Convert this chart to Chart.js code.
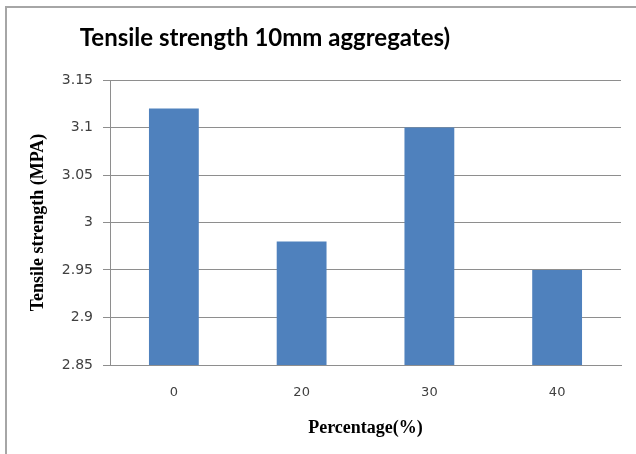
<!DOCTYPE html>
<html lang="en">
<head>
    <meta charset="UTF-8">
    <title>Tensile strength 10mm aggregates)</title>
    <script src="https://cdn.jsdelivr.net/npm/chart.js"></script>
    <style>
        body { margin: 0; background: #fff; }
        .wrap { position: relative; width: 636px; height: 454px; overflow: hidden; }
        .frame {
            position: absolute; left: 5px; top: 6px; width: 700px; height: 500px;
            border-left: 2px solid #a6a6a6; border-top: 2px solid #a6a6a6;
            pointer-events: none;
        }
        .title {
            position: absolute; left: 0; top: 22px; width: 530px;
            text-align: center; font: bold 24px/30px Lato, sans-serif; color: #000;
            white-space: nowrap;
        }
        canvas { position: absolute; left: 0; top: 0; }
    </style>
</head>
<body>
    <div class="wrap">
        <canvas id="chart" width="636" height="454"></canvas>
        <div class="title">Tensile strength 10mm aggregates)</div>
        <div class="frame"></div>
    </div>

    <script>
        const categories = ['0', '20', '30', '40'];
        const strength = [3.12, 2.98, 3.10, 2.95];
        const yTicks = [2.85, 2.9, 2.95, 3, 3.05, 3.1, 3.15];

        const gridGray = '#8e8e8e';
        const labelColor = '#404040';

        new Chart(document.getElementById('chart'), {
            type: 'bar',
            data: {
                labels: categories,
                datasets: [{
                    label: 'Tensile strength',
                    data: strength,
                    backgroundColor: '#4f81bd',
                    borderWidth: 0,
                    barPercentage: 0.39,
                    categoryPercentage: 1
                }]
            },
            options: {
                responsive: false,
                animation: false,
                devicePixelRatio: 1,
                // title sits in the html above, so the plot starts at y=80
                layout: { padding: { left: 0, right: 15, top: 80, bottom: 0 } },
                plugins: {
                    legend: { display: false },
                    tooltip: { enabled: false },
                    title: { display: false }
                },
                scales: {
                    x: {
                        grid: { display: false, drawTicks: false },
                        border: { display: true, color: gridGray, width: 1 },
                        ticks: {
                            color: labelColor,
                            padding: 20,
                            font: { family: 'DejaVu Sans', size: 13 }
                        },
                        title: {
                            display: true,
                            text: 'Percentage(%)',
                            color: '#000',
                            font: { family: 'Liberation Serif', size: 18, weight: 'bold', lineHeight: 1.2 },
                            padding: { top: 0, bottom: 15 }
                        },
                        afterFit: s => { s.height = 89; }
                    },
                    y: {
                        min: 2.85,
                        max: 3.15,
                        afterBuildTicks: s => { s.ticks = yTicks.map(v => ({ value: v })); },
                        grid: { color: gridGray, tickLength: 7, lineWidth: 1 },
                        border: { display: true, color: gridGray, width: 1 },
                        ticks: {
                            color: labelColor,
                            padding: 10,
                            font: { family: 'DejaVu Sans', size: 14 },
                            callback: v => String(v)
                        },
                        title: {
                            display: true,
                            text: 'Tensile strength (MPA)',
                            color: '#000',
                            font: { family: 'Liberation Serif', size: 18, weight: 'bold', lineHeight: 1.2 },
                            padding: { top: 28, bottom: 0 }
                        },
                        afterFit: s => { s.width = 110; }
                    }
                }
            }
        });
    </script>
</body>
</html>
